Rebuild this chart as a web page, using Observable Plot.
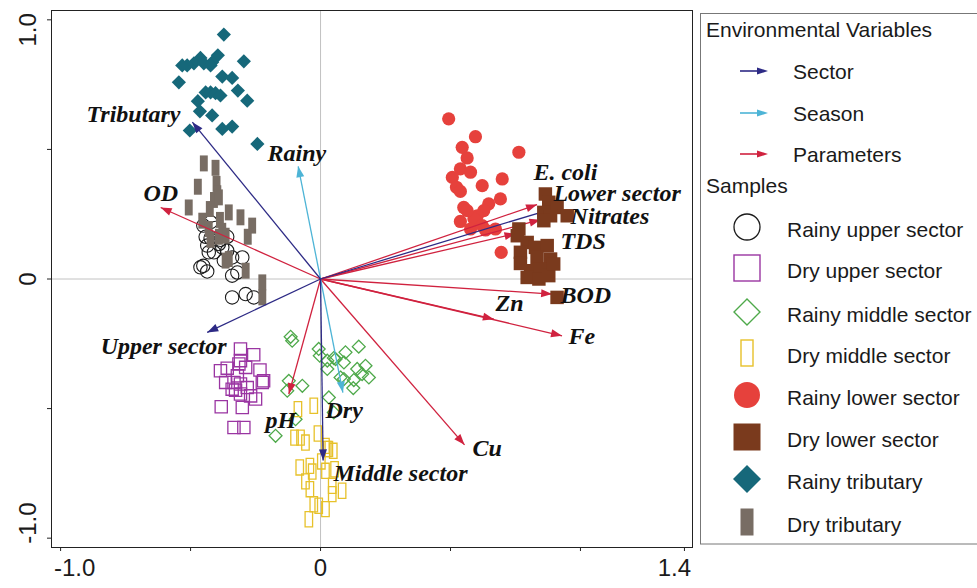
<!DOCTYPE html>
<html><head><meta charset="utf-8">
<script src="https://cdn.jsdelivr.net/npm/d3@7"></script>
<script src="https://cdn.jsdelivr.net/npm/@observablehq/plot@0.6"></script>
<style>
html,body{margin:0;padding:0;background:#fff;}
#wrap{position:relative;width:977px;height:588px;overflow:hidden;background:#fff;}
#chart{position:absolute;left:0;top:0;}
#legend{position:absolute;left:700px;top:0;}
</style></head>
<body><div id="wrap"><div id="chart"></div><svg id="legend" width="277" height="588"></svg></div>
<script>
// ---------- data ----------
const xDomain = [-1.035, 1.431];
const yDomain = [-1.036, 1.036];
const xTicks = [-1, -0.5, 0, 0.5, 1, 1.4];
const yTicks = [-1, -0.5, 0, 0.5, 1];
const xTickLabels = ["-1.0", "0", "1.4"];
const xTickLabelValues = [-1, 0, 1.4];
const yTickLabels = ["-1.0", "0", "1.0"];
const yTickLabelValues = [-1, 0, 1];

const rainyUpper = [[-0.423,0.219],[-0.451,0.206],[-0.404,0.197],[-0.442,0.163],[-0.423,0.158],[-0.359,0.163],[-0.385,0.151],[-0.436,0.129],[-0.378,0.122],[-0.430,0.103],[-0.359,0.109],[-0.340,0.083],[-0.301,0.083],[-0.372,0.071],[-0.451,0.051],[-0.436,0.029],[-0.462,0.045],[-0.340,0.013],[-0.320,0.025],[-0.340,-0.071],[-0.288,-0.058],[-0.257,-0.071],[-0.410,0.103],[-0.391,0.135]];
const dryUpper = [[-0.308,-0.270],[-0.257,-0.292],[-0.308,-0.315],[-0.314,-0.328],[-0.359,-0.344],[-0.288,-0.341],[-0.233,-0.351],[-0.320,-0.373],[-0.333,-0.399],[-0.365,-0.399],[-0.308,-0.405],[-0.224,-0.399],[-0.282,-0.419],[-0.327,-0.429],[-0.308,-0.444],[-0.250,-0.463],[-0.269,-0.451],[-0.382,-0.493],[-0.301,-0.496],[-0.333,-0.573],[-0.295,-0.573],[-0.340,-0.425],[-0.385,-0.354],[-0.219,-0.393]];
const rainyMiddle = [[-0.115,-0.223],[-0.109,-0.238],[-0.007,-0.270],[-0.003,-0.296],[0.026,-0.315],[0.058,-0.309],[0.096,-0.283],[0.147,-0.261],[0.026,-0.347],[0.090,-0.322],[0.141,-0.347],[0.173,-0.335],[0.160,-0.367],[0.186,-0.380],[0.090,-0.386],[0.128,-0.390],[0.126,-0.421],[-0.122,-0.393],[-0.070,-0.412],[-0.128,-0.431],[0.032,-0.457],[0.051,-0.515],[-0.096,-0.541],[-0.173,-0.605],[0.051,-0.305],[0.077,-0.380]];
const dryMiddle = [[-0.026,-0.489],[-0.087,-0.502],[-0.100,-0.612],[-0.077,-0.612],[-0.058,-0.631],[-0.010,-0.596],[0.026,-0.656],[0.049,-0.663],[0.019,-0.644],[-0.080,-0.727],[-0.041,-0.721],[-0.032,-0.743],[0.003,-0.704],[0.019,-0.740],[0.054,-0.734],[-0.058,-0.781],[-0.041,-0.811],[0.045,-0.798],[0.083,-0.817],[0.045,-0.830],[-0.026,-0.869],[-0.007,-0.875],[0.019,-0.888],[-0.045,-0.927],[0.032,-0.656]];
const rainyLower = [[0.493,0.618],[0.596,0.549],[0.545,0.508],[0.564,0.467],[0.763,0.489],[0.538,0.425],[0.577,0.412],[0.507,0.392],[0.523,0.354],[0.538,0.338],[0.622,0.360],[0.699,0.386],[0.692,0.309],[0.647,0.290],[0.551,0.276],[0.628,0.264],[0.603,0.244],[0.590,0.232],[0.538,0.222],[0.577,0.193],[0.622,0.206],[0.635,0.189],[0.673,0.193],[0.695,0.103],[0.564,0.264]];
const dryLower = [[0.865,0.328],[0.878,0.296],[0.910,0.276],[0.859,0.257],[0.885,0.244],[0.949,0.244],[0.859,0.225],[0.763,0.193],[0.757,0.167],[0.795,0.141],[0.827,0.122],[0.872,0.129],[0.769,0.103],[0.833,0.083],[0.885,0.077],[0.769,0.060],[0.808,0.032],[0.846,0.039],[0.795,0.006],[0.840,0.000],[0.878,0.013],[0.910,-0.071],[0.897,0.058]];
const rainyTributary = [[-0.372,0.943],[-0.295,0.840],[-0.395,0.863],[-0.417,0.836],[-0.462,0.853],[-0.487,0.832],[-0.513,0.824],[-0.532,0.824],[-0.449,0.832],[-0.423,0.824],[-0.378,0.781],[-0.340,0.776],[-0.545,0.759],[-0.318,0.727],[-0.442,0.720],[-0.423,0.720],[-0.404,0.717],[-0.385,0.708],[-0.282,0.688],[-0.472,0.686],[-0.464,0.647],[-0.417,0.631],[-0.503,0.573],[-0.378,0.579],[-0.340,0.588],[-0.243,0.521]];
const dryTributary = [[-0.449,0.446],[-0.404,0.429],[-0.472,0.356],[-0.400,0.367],[-0.397,0.331],[-0.410,0.305],[-0.391,0.315],[-0.507,0.276],[-0.426,0.270],[-0.353,0.257],[-0.308,0.238],[-0.455,0.225],[-0.387,0.228],[-0.263,0.206],[-0.430,0.193],[-0.378,0.186],[-0.365,0.167],[-0.280,0.163],[-0.391,0.163],[-0.365,0.071],[-0.353,0.077],[-0.288,0.032],[-0.224,-0.013],[-0.224,-0.071],[-0.423,0.151]];

const sampleNames = ["Rainy upper sector","Dry upper sector","Rainy middle sector","Dry middle sector","Rainy lower sector","Dry lower sector","Rainy tributary","Dry tributary"];
const samplePoints = [rainyUpper, dryUpper, rainyMiddle, dryMiddle, rainyLower, dryLower, rainyTributary, dryTributary];

const variableTypes = ["Sector", "Season", "Parameters"];
const vectorNames = ["Tributary","Upper sector","Middle sector","Lower sector","Rainy","Dry","OD","pH","Cu","Zn","Fe","BOD","E. coli","Nitrates","TDS"];
const vectorTypes = ["Sector","Sector","Sector","Sector","Season","Season","Parameters","Parameters","Parameters","Parameters","Parameters","Parameters","Parameters","Parameters","Parameters"];
const vectorX = [-0.493,-0.436,0.010,0.890,-0.086,0.086,-0.615,-0.122,0.554,0.667,0.929,0.891,0.833,0.846,0.750];
const vectorY = [0.605,-0.206,-0.700,0.270,0.435,-0.438,0.276,-0.444,-0.640,-0.155,-0.219,-0.058,0.287,0.229,0.175];
const labelX = [-0.900,-0.846,0.050,0.896,-0.204,0.019,-0.681,-0.212,0.585,0.673,0.954,0.923,0.819,0.962,0.923];
const labelY = [0.607,-0.288,-0.779,0.302,0.457,-0.536,0.302,-0.574,-0.682,-0.122,-0.250,-0.092,0.382,0.212,0.117];

// ---------- styles ----------
const typeColor = {Sector: "#2d2a85", Season: "#4db4d6", Parameters: "#d0223f"};
const tallRect = {draw(ctx, size) { const r = Math.sqrt(size / Math.PI); const w = r * 0.52, h = r * 1.05; ctx.moveTo(-w, -h); ctx.lineTo(w, -h); ctx.lineTo(w, h); ctx.lineTo(-w, h); ctx.closePath(); }};
const sampleStyle = [
  {symbol: "circle", r: 6.7, fill: "none", stroke: "#1c1c1c", strokeWidth: 1.1},
  {symbol: "square", r: 6.9, fill: "none", stroke: "#9a35a2", strokeWidth: 1.3},
  {symbol: "diamond2", r: 5.8, fill: "none", stroke: "#4ea94a", strokeWidth: 1.3},
  {symbol: tallRect, r: 7.2, fill: "none", stroke: "#e7c12a", strokeWidth: 1.3},
  {symbol: "circle", r: 6.6, fill: "#e6413c", stroke: "none"},
  {symbol: "square", r: 7.6, fill: "#7a3a1d", stroke: "none"},
  {symbol: "diamond2", r: 6.4, fill: "#16687a", stroke: "none"},
  {symbol: tallRect, r: 7.6, fill: "#786d64", stroke: "none"}
];
const xLabelDx = [14, 0, -10];
const yLabelDy = [-15, 0, 10];
const tickFont = "'Liberation Sans', Arial, sans-serif";
const serifFont = "'Liberation Serif', 'Times New Roman', serif";

// ---------- build ----------
const samples = sampleNames.map((name, i) => samplePoints[i].map(([x, y]) => ({name, x, y})));
const vectors = vectorNames.map((name, i) => ({name, type: vectorTypes[i], x: vectorX[i], y: vectorY[i], lx: labelX[i], ly: labelY[i]}));

const dotMark = (i) => Plot.dot(samples[i], {x: "x", y: "y", ...sampleStyle[i]});
const vectorMarks = variableTypes.slice().reverse().flatMap(t => {
  const vs = vectors.filter(d => d.type === t);
  return [
    Plot.link(vs, {x1: 0, y1: 0, x2: "x", y2: "y", stroke: typeColor[t], strokeWidth: 1.3}),
    Plot.vector(vs, {x: "x", y: "y", rotate: d => Math.atan2(d.x, d.y) * 180 / Math.PI, length: 11, r: 4, shape: "spike", anchor: "end", fill: typeColor[t], stroke: "none"})
  ];
});

const plot = Plot.plot({
  width: 697, height: 588,
  marginLeft: 51, marginRight: 5, marginTop: 10, marginBottom: 41,
  x: {domain: xDomain, axis: null, label: null},
  y: {domain: yDomain, axis: null, label: null},
  style: {fontFamily: tickFont, background: "white", color: "#1a1a1a"},
  marks: [
    Plot.ruleX([0], {stroke: "#c2c2c2", strokeWidth: 1}),
    Plot.ruleY([0], {stroke: "#c2c2c2", strokeWidth: 1}),
    ...[0, 1, 2, 3, 4, 6, 7].map(dotMark),
    ...vectorMarks,
    dotMark(5),
    Plot.text(vectors, {x: "lx", y: "ly", text: "name", textAnchor: "start", lineAnchor: "bottom", fontFamily: serifFont, fontWeight: "bold", fontStyle: "italic", fontSize: 24, fill: "#111"}),
    Plot.frame({stroke: "#222", strokeWidth: 1}),
    Plot.axisX({ticks: xTicks, tickSize: 4, tickFormat: () => "", label: null, stroke: "#222"}),
    Plot.axisY({ticks: yTicks, tickSize: 4, tickFormat: () => "", label: null, stroke: "#222"}),
    ...xTickLabelValues.map((v, i) => Plot.text([xTickLabels[i]], {x: v, text: d => d, frameAnchor: "bottom", dy: 11, dx: xLabelDx[i], lineAnchor: "top", textAnchor: "middle", fontSize: 24, fontFamily: tickFont, fill: "#1a1a1a"})),
    ...yTickLabelValues.map((v, i) => Plot.text([yTickLabels[i]], {y: v, text: d => d, frameAnchor: "left", dx: -16, dy: yLabelDy[i], rotate: -90, lineAnchor: "bottom", textAnchor: "middle", fontSize: 24, fontFamily: tickFont, fill: "#1a1a1a"}))
  ]
});
document.getElementById("chart").appendChild(plot);

// ---------- legend ----------
const lg = d3.select("#legend").style("font-family", tickFont);
lg.append("rect").attr("x", 0.5).attr("y", 13.5).attr("width", 300).attr("height", 530.5).attr("fill", "white").attr("stroke", "#777").attr("stroke-width", 1);
lg.append("text").attr("x", 6).attr("y", 37).attr("font-size", 21).attr("fill", "#1a1a1a").text("Environmental Variables");
const varRowY = [71, 113, 154];
variableTypes.forEach((t, i) => {
  const y = varRowY[i];
  lg.append("line").attr("x1", 40).attr("x2", 60).attr("y1", y).attr("y2", y).attr("stroke", typeColor[t]).attr("stroke-width", 1.6);
  lg.append("path").attr("d", `M68,${y}L57,${y - 3.6}L57,${y + 3.6}Z`).attr("fill", typeColor[t]);
  lg.append("text").attr("x", 93).attr("y", y + 8).attr("font-size", 21).attr("fill", "#1a1a1a").text(t);
});
lg.append("text").attr("x", 6).attr("y", 193).attr("font-size", 21).attr("fill", "#1a1a1a").text("Samples");
const sampleRowY = [227, 268, 312, 353, 395, 437, 479, 522];
const legendShapes = [
  (g, y) => g.append("circle").attr("cx", 47).attr("cy", y).attr("r", 13).attr("fill", "none").attr("stroke", "#1c1c1c").attr("stroke-width", 1.3),
  (g, y) => g.append("rect").attr("x", 34).attr("y", y - 13).attr("width", 26).attr("height", 26).attr("fill", "none").attr("stroke", "#9a35a2").attr("stroke-width", 1.4),
  (g, y) => g.append("path").attr("d", `M47,${y - 13}L60,${y}L47,${y + 13}L34,${y}Z`).attr("fill", "none").attr("stroke", "#4ea94a").attr("stroke-width", 1.4),
  (g, y) => g.append("rect").attr("x", 41).attr("y", y - 13).attr("width", 12).attr("height", 26).attr("fill", "none").attr("stroke", "#e7c12a").attr("stroke-width", 1.4),
  (g, y) => g.append("circle").attr("cx", 47).attr("cy", y).attr("r", 13).attr("fill", "#e6413c"),
  (g, y) => g.append("rect").attr("x", 33.5).attr("y", y - 13.5).attr("width", 27).attr("height", 27).attr("fill", "#7a3a1d"),
  (g, y) => g.append("path").attr("d", `M47,${y - 14}L61,${y}L47,${y + 14}L33,${y}Z`).attr("fill", "#16687a"),
  (g, y) => g.append("rect").attr("x", 40.5).attr("y", y - 13.5).attr("width", 13).attr("height", 27).attr("fill", "#786d64")
];
sampleNames.forEach((name, i) => {
  const y = sampleRowY[i];
  legendShapes[i](lg, y);
  lg.append("text").attr("x", 87).attr("y", y + 9.5).attr("font-size", 21).attr("fill", "#1a1a1a").text(name);
});
</script>
</body></html>
